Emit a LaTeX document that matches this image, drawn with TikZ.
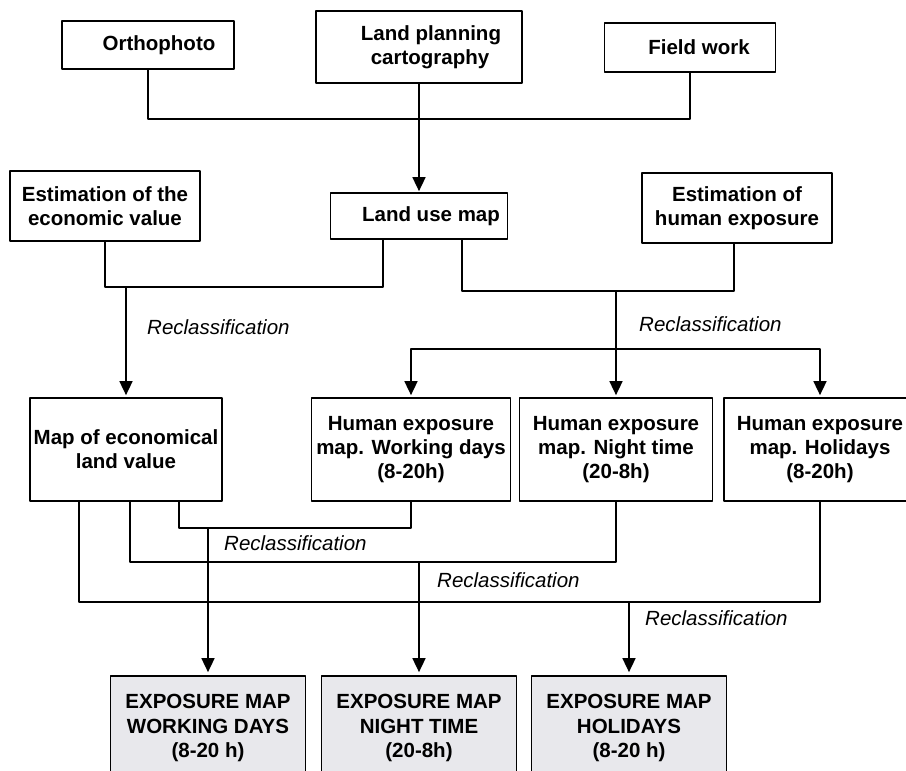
\documentclass[tikz,border=0pt]{standalone}
\usepackage{fontspec}
\setmainfont{Liberation Sans}
\usetikzlibrary{arrows.meta}
\definecolor{mapgray}{RGB}{232,232,236}
\begin{document}
\begin{tikzpicture}[x=1pt,y=-1pt,>={Triangle[length=14pt,width=13pt]}, line join=round,
	box/.style={draw,line width=1.7pt,align=center,inner sep=2pt,font=\bfseries\fontsize{20.5}{24}\selectfont},
	outbox/.style={box,fill=mapgray,minimum width=195pt,minimum height=104pt,font=\bfseries\fontsize{20.5}{24.5}\selectfont},
	recl/.style={anchor=west,inner sep=0pt,font=\itshape\fontsize{20.5}{24}\selectfont},
	link/.style={line width=1.6pt}]
	\useasboundingbox (0,0) rectangle (906,771);
	\clip (0,0) rectangle (906,771);
	\node[box,minimum width=172pt,minimum height=48pt] (ortho) at (148,45) {\hspace*{22pt}Orthophoto};
	\node[box,minimum width=206pt,minimum height=72pt] (lplan) at (419,47) {\hspace*{24pt}Land planning\\\hspace*{22pt}cartography};
	\node[box,minimum width=171pt,minimum height=49pt] (field) at (690,47.5) {\hspace*{18pt}Field work};
	\node[box,minimum width=190pt,minimum height=70pt] (econest) at (105,206) {Estimation of the\\economic value};
	\node[box,minimum width=177pt,minimum height=46pt] (landuse) at (419,216) {\hspace*{24pt}Land use map};
	\node[box,minimum width=190pt,minimum height=70pt] (humest) at (737,208) {Estimation of\\human exposure};
	\node[box,minimum width=192pt,minimum height=103pt] (econmap) at (126,449.5) {Map of economical\\land value};
	\node[box,minimum width=199pt,minimum height=103pt] (hework) at (411,449.5) {Human exposure\\map. Working days\\(8-20h)};
	\node[box,minimum width=193pt,minimum height=103pt] (henight) at (616,449.5) {Human exposure\\map. Night time\\(20-8h)};
	\node[box,minimum width=192pt,minimum height=103pt] (hehol) at (820,449.5) {Human exposure\\map. Holidays\\(8-20h)};
	\node[outbox] (expwork) at (208,728) {EXPOSURE MAP\\WORKING DAYS\\(8-20 h)};
	\node[outbox] (expnight) at (419,728) {EXPOSURE MAP\\NIGHT TIME\\(20-8h)};
	\node[outbox] (exphol) at (629,728) {EXPOSURE MAP\\HOLIDAYS\\(8-20 h)};
	\coordinate (j1) at (419,119);
	\coordinate (j2) at (126,287);
	\coordinate (j3) at (616,291);
	\coordinate (j4) at (616,349);
	\coordinate (b1) at (208,528);
	\coordinate (b2) at (419,562);
	\coordinate (b3) at (629,602);
	\draw[link] (ortho.south) |- (j1) -| (field.south);
	\draw[link,->,shorten >=1pt] (lplan) -- (landuse);
	\draw[link] (econest.south) |- (j2) -| ([xshift=-36pt]landuse.south);
	\draw[link,->,shorten >=2pt] (j2) -- (econmap);
	\draw[link] ([xshift=43pt]landuse.south) |- (j3) -| ([xshift=-3pt]humest.south);
	\draw[link,->,shorten >=2pt] (j3) -- (henight);
	\draw[link,->,shorten >=2pt] (j4) -| (hework);
	\draw[link,->,shorten >=2pt] (j4) -| (hehol);
	\draw[link] ([xshift=53pt]econmap.south) |- (b1) -| (hework.south);
	\draw[link,->,shorten >=3pt] (b1) -- (expwork);
	\draw[link] ([xshift=4pt]econmap.south) |- (b2) -| (henight.south);
	\draw[link,->,shorten >=3pt] (b2) -- (expnight);
	\draw[link] ([xshift=-47pt]econmap.south) |- (b3) -| (hehol.south);
	\draw[link,->,shorten >=3pt] (b3) -- (exphol);
	\node[recl] (r1) at (147,327) {Reclassification};
	\node[recl] (r2) at (639,324) {Reclassification};
	\node[recl] (r3) at (224,543) {Reclassification};
	\node[recl] (r4) at (437,580) {Reclassification};
	\node[recl] (r5) at (645,618) {Reclassification};
\end{tikzpicture}
\end{document}
